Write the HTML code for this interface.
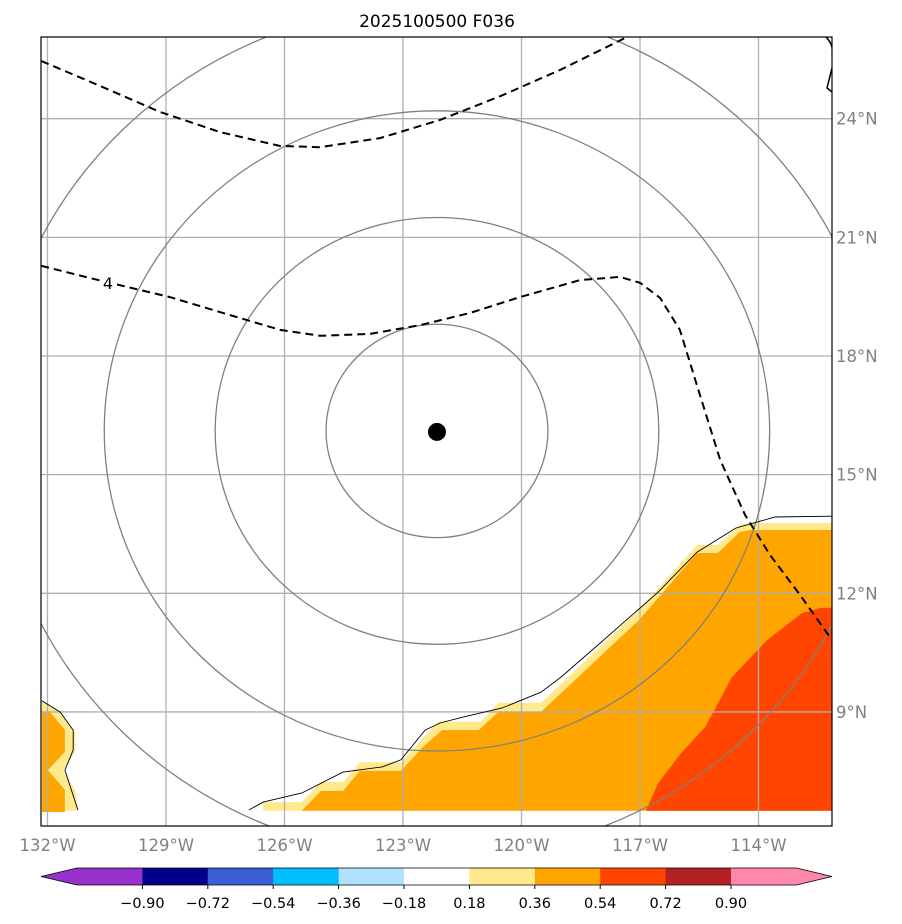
<!DOCTYPE html>
<html><head><meta charset="utf-8">
<style>
html,body{margin:0;padding:0;background:#fff;}
svg{display:block;font-family:"DejaVu Sans","Liberation Sans",sans-serif;}
</style></head>
<body>
<svg id="chart" width="902" height="924" xmlns="http://www.w3.org/2000/svg">
<text x="437" y="27" font-size="17" text-anchor="middle" fill="#000">2025100500 F036</text>
<defs><clipPath id="clip"><rect x="41" y="37" width="791" height="789"/></clipPath></defs>
<g id="plot" clip-path="url(#clip)"></g>
<rect x="41" y="37" width="791" height="789" fill="none" stroke="#000" stroke-width="1.2"/>
<g id="axes"></g>
<g id="cbar"></g>
</svg>
<script>
const lonTicks=[-132,-129,-126,-123,-120,-117,-114];
const lonLabels=["132°W","129°W","126°W","123°W","120°W","117°W","114°W"];
const latTicks=[9,12,15,18,21,24];
const latLabels=["9°N","12°N","15°N","18°N","21°N","24°N"];
const stormCenter=[-122.14,16.08];
const ringRadiiKm=[300,600,900,1200];
const yellowLon=[-126.54,-126.54,-125.56,-125.08,-124.52,-124.09,-123.05,-122.12,-121.03,-120.59,-119.51,-117.03,-115.56,-115.03,-114.47,-114.19,-112.14,-112.14];
const yellowLat=[6.50,6.72,6.72,7.23,7.23,7.73,7.73,8.75,8.75,9.23,9.23,11.58,13.22,13.22,13.73,13.78,13.78,6.50];
const orangeLon=[-125.56,-125.08,-124.52,-124.09,-123.05,-122.52,-122.01,-121.08,-120.59,-119.51,-117.03,-115.56,-115.03,-114.47,-114.19,-112.14,-112.14];
const orangeLat=[6.50,7.00,7.00,7.51,7.51,8.09,8.54,8.54,9.00,9.00,11.32,13.02,13.02,13.55,13.60,13.60,6.50];
const redLon=[-116.85,-116.54,-115.96,-115.35,-114.67,-113.78,-112.90,-112.42,-112.14,-112.14];
const redLat=[6.50,7.20,7.96,8.62,9.88,10.82,11.50,11.63,11.63,6.50];
const yellowWLon=[-132.14,-131.68,-131.30,-131.30,-131.61,-131.30,-131.23,-132.14];
const yellowWLat=[9.28,9.00,8.49,7.99,7.53,7.03,6.50,6.50];
const orangeWLon=[-132.14,-131.94,-131.56,-131.56,-131.99,-131.56,-131.56,-132.14];
const orangeWLat=[9.00,9.00,8.54,7.99,7.53,7.03,6.47,6.47];
const coastLon=[-126.90,-126.54,-125.56,-124.52,-123.53,-123.05,-122.44,-122.06,-121.48,-120.49,-119.51,-119.00,-118.01,-116.54,-115.56,-114.57,-113.58,-112.14];
const coastLat=[6.52,6.72,6.95,7.48,7.61,7.79,8.54,8.72,8.87,9.10,9.50,9.88,10.74,12.03,13.04,13.65,13.93,13.95];
const coastWLon=[-132.14,-131.68,-131.35,-131.35,-131.56,-131.23];
const coastWLat=[9.28,9.00,8.54,8.04,7.53,6.52];
const dash1Lon=[-132.16,-130.67,-129.15,-127.63,-126.11,-125.10,-123.58,-122.06,-120.54,-119.03,-117.38];
const dash1Lat=[25.46,24.83,24.17,23.66,23.31,23.28,23.51,23.97,24.57,25.23,26.04];
const dash2Lon=[-132.16,-130.92,-128.90,-127.13,-126.11,-125.10,-123.84,-122.57,-121.30,-120.04,-118.52,-117.51,-117.00,-116.49,-115.99,-115.48,-114.97,-114.34,-113.71,-112.95,-112.14];
const dash2Lat=[20.28,19.97,19.49,18.96,18.66,18.51,18.56,18.78,19.09,19.49,19.92,20.00,19.85,19.47,18.66,17.01,15.37,13.98,12.97,11.96,10.82];
const cbarBounds=[-0.90,-0.72,-0.54,-0.36,-0.18,0.18,0.36,0.54,0.72,0.90];
const cbarLabels=["\u22120.90","\u22120.72","\u22120.54","\u22120.36","\u22120.18","0.18","0.36","0.54","0.72","0.90"];
const cbarColors=["#9932cc","#00008b","#3d5fd5","#00bfff","#b0e2ff","#ffffff","#ffe98c","#ffa500","#ff4500","#b22222","#ff88aa","#ff88aa"];

const NS="http://www.w3.org/2000/svg";
const X=lon=>403+(lon+123)*39.5;
const Y=lat=>356-(lat-18)*39.55;
function mk(tag,attrs,parent){const e=document.createElementNS(NS,tag);for(const k in attrs)e.setAttribute(k,attrs[k]);parent.appendChild(e);return e;}
const plot=document.getElementById('plot'),axes=document.getElementById('axes'),cb=document.getElementById('cbar');
function pts(lo,la){return lo.map((v,i)=>X(v).toFixed(1)+','+Y(la[i]).toFixed(1)).join(' ');}

function fill(lo,la,c,name){const p=mk('polygon',{points:pts(lo,la),fill:c},plot);

}
fill(yellowLon,yellowLat,'#ffe98c','fill-0.18-0.36');
fill(orangeLon,orangeLat,'#ffa500','fill-0.36-0.54');
fill(redLon,redLat,'#ff4500','fill-0.54-0.72');
fill(yellowWLon,yellowWLat,'#ffe98c','fill-west-0.18-0.36');
fill(orangeWLon,orangeWLat,'#ffa500','fill-west-0.36-0.54');

lonTicks.forEach((v,i)=>{const l=mk('line',{x1:X(v),x2:X(v),y1:37,y2:826,stroke:'#b0b0b0','stroke-width':1.3},plot);


const t=mk('text',{x:X(v),y:851,'font-size':16.5,'text-anchor':'middle',fill:'#808080'},axes);t.textContent=lonLabels[i];

});
latTicks.forEach((v,i)=>{const l=mk('line',{x1:41,x2:832,y1:Y(v),y2:Y(v),stroke:'#b0b0b0','stroke-width':1.3},plot);


const t=mk('text',{x:836,y:Y(v)+6,'font-size':16.5,fill:'#808080'},axes);t.textContent=latLabels[i];

});

const cx=X(stormCenter[0]),cy=Y(stormCenter[1]);
ringRadiiKm.forEach(r=>{const ry=r/111.2,rx=r/(111.2*Math.cos(stormCenter[1]*Math.PI/180));
const e=mk('ellipse',{cx:cx,cy:cy-1,rx:rx*39.5,ry:ry*39.55,fill:'none',stroke:'#808080','stroke-width':1.3},plot);

});

function line(lo,la,attrs,name){const p=mk('polyline',Object.assign({points:pts(lo,la),fill:'none'},attrs),plot);

}
line(coastLon,coastLat,{stroke:'#000','stroke-width':0.9},'coastline');
line(coastWLon,coastWLat,{stroke:'#000','stroke-width':0.9},'coastline-west');
line(dash1Lon,dash1Lat,{stroke:'#000','stroke-width':2,'stroke-dasharray':'8,5'},'contour-north');
line(dash2Lon,dash2Lat,{stroke:'#000','stroke-width':2,'stroke-dasharray':'8,5'},'contour-4');
const ne=mk('path',{d:'M826,37 Q834,45 832,55 M832,68 L827,88 L832,92',fill:'none',stroke:'#000','stroke-width':1.5},plot);


const lab=mk('rect',{x:100,y:272,width:17,height:18,fill:'#fff'},plot);


const lt=mk('text',{x:108,y:289,'font-size':16,'text-anchor':'middle',fill:'#000'},plot);lt.textContent='4';


const dot=mk('circle',{cx:cx,cy:cy,r:9,fill:'#000'},plot);



// colorbar
const cbX0=77,cbW=65.4,cbY=868,cbH=17;
const CX=i=>cbX0+i*cbW;
for(let i=0;i<11;i++){const r=mk('rect',{x:CX(i),y:cbY,width:cbW+0.5,height:cbH,fill:cbarColors[i]},cb);

}
const tl=mk('polygon',{points:`41,${cbY+cbH/2} ${cbX0},${cbY} ${cbX0},${cbY+cbH}`,fill:cbarColors[0]},cb);


const tr=mk('polygon',{points:`${CX(11)},${cbY} 832,${cbY+cbH/2} ${CX(11)},${cbY+cbH}`,fill:cbarColors[11]},cb);


const ol=mk('polygon',{points:`41,${cbY+cbH/2} ${cbX0},${cbY} ${CX(11)},${cbY} 832,${cbY+cbH/2} ${CX(11)},${cbY+cbH} ${cbX0},${cbY+cbH}`,fill:'none',stroke:'#000','stroke-width':0.8},cb);


cbarBounds.forEach((b,i)=>{const x=CX(i+1);
mk('line',{x1:x,x2:x,y1:cbY+cbH,y2:cbY+cbH+4,stroke:'#000'},cb);
const t=mk('text',{x:x,y:908,'font-size':14.5,'text-anchor':'middle',fill:'#000'},cb);t.textContent=cbarLabels[i];

});
</script>
</body></html>
